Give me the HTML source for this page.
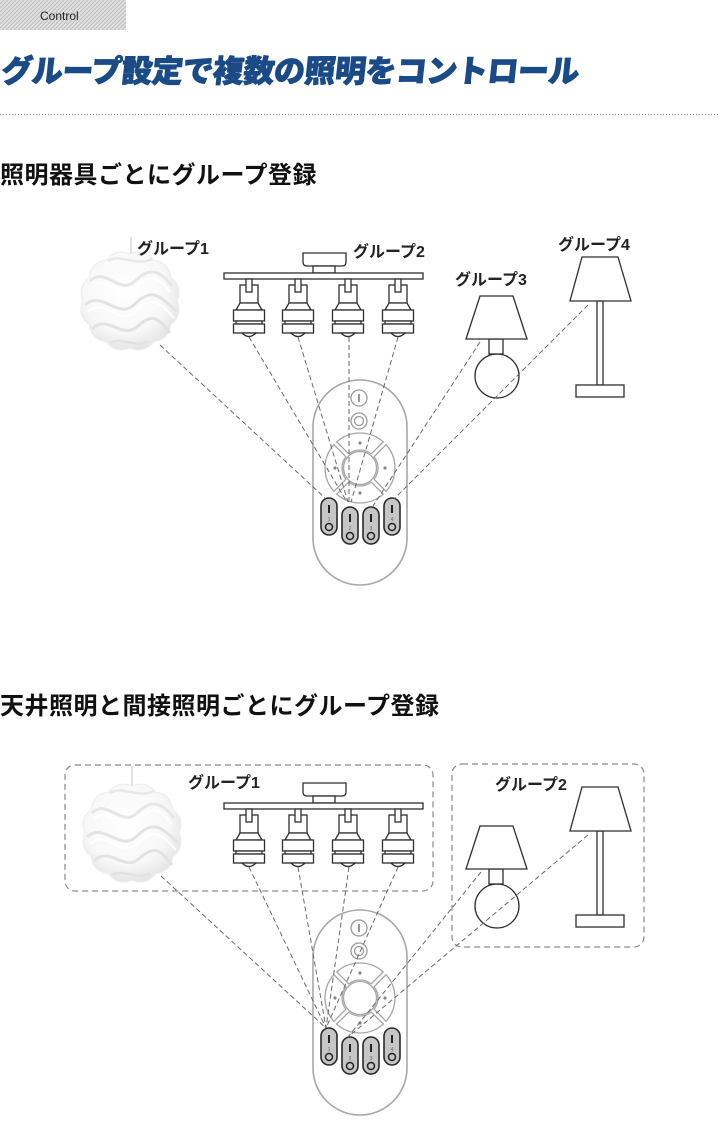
<!DOCTYPE html>
<html><head><meta charset="utf-8">
<style>
html,body{margin:0;padding:0;background:#fff;}
svg{display:block;}
.lbl{font-family:"Liberation Sans","Noto Sans CJK JP",sans-serif;font-weight:bold;font-size:16px;fill:#222;}
.dl{stroke:#6a6a6a;stroke-width:1;stroke-dasharray:5 3;fill:none;}
.ln{stroke:#2e2e2e;stroke-width:1.3;fill:#fff;}
</style></head>
<body>
<svg width="720" height="1140" viewBox="0 0 720 1140" xmlns="http://www.w3.org/2000/svg">
<defs>
  <pattern id="hatch" width="4" height="4" patternUnits="userSpaceOnUse">
    <rect width="4" height="4" fill="#e2e2e2"/>
    <path d="M-1,1 L1,-1 M0,4 L4,0 M3,5 L5,3" stroke="#bcbcbc" stroke-width="1"/>
  </pattern>
  <radialGradient id="lg" cx="45%" cy="40%" r="60%">
    <stop offset="0" stop-color="#ffffff"/>
    <stop offset="0.7" stop-color="#f8f8f8"/>
    <stop offset="1" stop-color="#e6e6e6"/>
  </radialGradient>
  <g id="pendant">
    <path d="M47,0 Q53.1,14.2 40.7,23.5 Q38.9,38.9 23.5,40.7 Q14.2,53.1 0,47 Q-14.2,53.1 -23.5,40.7 Q-38.9,38.9 -40.7,23.5 Q-53.1,14.2 -47,0 Q-53.1,-14.2 -40.7,-23.5 Q-38.9,-38.9 -23.5,-40.7 Q-14.2,-53.1 0,-47 Q14.2,-53.1 23.5,-40.7 Q38.9,-38.9 40.7,-23.5 Q53.1,-14.2 47,0 Z" fill="url(#lg)" stroke="#ececec" stroke-width="1"/>
    <path d="M-40,-20 C-25,-35 -10,-5 5,-20 S30,-30 42,-15" stroke="#e6e6e6" stroke-width="3" fill="none"/>
    <path d="M-45,4 C-28,-12 -12,20 5,3 S30,-5 46,10" stroke="#e3e3e3" stroke-width="3" fill="none"/>
    <path d="M-38,28 C-22,12 -8,40 8,25 S30,20 40,32" stroke="#e2e2e2" stroke-width="3" fill="none"/>
    <path d="M-22,-40 C-10,-48 5,-34 22,-42" stroke="#e8e8e8" stroke-width="2.5" fill="none"/>
    <path d="M-20,42 C-8,35 5,48 18,40" stroke="#e2e2e2" stroke-width="2.5" fill="none"/>
    <path d="M-38,-14 C-24,-28 -10,0 6,-14 S28,-24 40,-9" stroke="#ffffff" stroke-width="2" fill="none"/>
    <path d="M-42,11 C-26,-5 -10,27 6,10 S30,2 44,17" stroke="#ffffff" stroke-width="2" fill="none"/>
  </g>
  <g id="spot" class="ln">
    <rect x="-9" y="6" width="18" height="18"/>
    <rect x="-3" y="0" width="6" height="13"/>
    <polygon points="-9,24 9,24 13,31 -13,31"/>
    <rect x="-15.5" y="31" width="31" height="11"/>
    <rect x="-13" y="42" width="26" height="3"/>
    <rect x="-15.5" y="45" width="31" height="9"/>
    <path d="M-7,54 Q0,61 7,54 Z"/>
  </g>
  <g id="fixture">
    <g class="ln">
      <path d="M303,253 H346 V262 Q346,266 342,266 H307 Q303,266 303,262 Z"/>
      <rect x="313" y="266" width="22" height="7"/>
      <rect x="224" y="273" width="199" height="6"/>
    </g>
    <use href="#spot" x="249" y="279"/>
    <use href="#spot" x="298" y="279"/>
    <use href="#spot" x="348" y="279"/>
    <use href="#spot" x="398" y="279"/>
  </g>
  <g id="tlamp" class="ln">
    <circle cx="497" cy="376" r="22"/>
    <rect x="489" y="339" width="14" height="15"/>
    <polygon points="480,296 513,296 527,339 466,339"/>
  </g>
  <g id="flamp" class="ln">
    <rect x="597" y="301" width="6" height="84"/>
    <rect x="576" y="385" width="48" height="12"/>
    <polygon points="582,257 618,257 631,301 570,301"/>
  </g>
  <path id="seg" d="M-23.3,-26.1 A35,35 0 0 1 23.3,-26.1 L11.2,-14.1 A18,18 0 0 0 -11.2,-14.1 Z" fill="#fff" stroke="#a6a6a6" stroke-width="1.3"/>
  <g id="btn">
    <rect x="-8" y="0" width="16" height="37" rx="8" fill="#c6c6c6" stroke="#2a2a2a" stroke-width="1.6"/>
    <line x1="0" y1="7" x2="0" y2="15" stroke="#222" stroke-width="2"/>
    <circle cx="0" cy="29" r="3.5" fill="none" stroke="#222" stroke-width="1.5"/>
  </g>
  <g id="remote">
    <rect x="313" y="380" width="94" height="205" rx="47" fill="#fff" stroke="#a8a8a8" stroke-width="1.6"/>
    <circle cx="359" cy="398" r="8" fill="#fff" stroke="#9a9a9a" stroke-width="1.3"/>
    <line x1="359" y1="394" x2="359" y2="402" stroke="#777" stroke-width="1.5"/>
    <circle cx="359" cy="421" r="8" fill="#fff" stroke="#9a9a9a" stroke-width="1.3"/>
    <circle cx="359" cy="421" r="4.5" fill="none" stroke="#9a9a9a" stroke-width="1.3"/>
    <g transform="translate(360,468)">
      <use href="#seg"/>
      <use href="#seg" transform="rotate(90)"/>
      <use href="#seg" transform="rotate(180)"/>
      <use href="#seg" transform="rotate(270)"/>
      <circle cx="0" cy="0" r="16.5" fill="#fff" stroke="#a6a6a6" stroke-width="1.3"/>
      <circle cx="0" cy="-25" r="1.6" fill="#888"/>
      <circle cx="-25" cy="0" r="1.6" fill="#888"/>
      <circle cx="25" cy="0" r="1.6" fill="#888"/>
      <circle cx="0" cy="25" r="1.6" fill="#888"/>
    </g>
    <use href="#btn" x="329" y="498"/>
    <use href="#btn" x="350" y="507"/>
    <use href="#btn" x="371" y="507"/>
    <use href="#btn" x="392" y="498"/>
    <g font-family="Liberation Sans, sans-serif" font-size="5" fill="#666" text-anchor="middle">
      <text x="329" y="521">1</text>
      <text x="350" y="530">2</text>
      <text x="371" y="530">3</text>
      <text x="392" y="521">4</text>
    </g>
  </g>
</defs>

<!-- Header -->
<rect x="0" y="0" width="126" height="30" fill="url(#hatch)"/>
<text x="40" y="20" font-family="Liberation Sans, sans-serif" font-size="12" fill="#222">Control</text>
<g transform="translate(9,0) skewX(-6)">
<text x="0" y="82" font-family="Liberation Sans, Noto Sans CJK JP, sans-serif" font-weight="900" font-size="31" letter-spacing="-0.5" fill="#1b4b86" stroke="#1b4b86" stroke-width="0.9" stroke-linejoin="round">グループ設定で複数の照明をコントロール</text>
</g>
<line x1="0" y1="114.5" x2="720" y2="114.5" stroke="#8a8a8a" stroke-width="1" stroke-dasharray="1 2"/>
<text x="0" y="183" font-family="Liberation Sans, Noto Sans CJK JP, sans-serif" font-weight="bold" font-size="24" letter-spacing="0.5" fill="#111">照明器具ごとにグループ登録</text>

<!-- Diagram 1 -->
<line x1="131" y1="237" x2="131" y2="258" stroke="#cfcfcf" stroke-width="1.2"/>
<use href="#pendant" x="130" y="301"/>
<text class="lbl" x="137" y="254">グループ1</text>
<use href="#fixture"/>
<text class="lbl" x="353" y="257">グループ2</text>
<use href="#tlamp"/>
<text class="lbl" x="455" y="285">グループ3</text>
<use href="#flamp"/>
<text class="lbl" x="558" y="250">グループ4</text>
<use href="#remote"/>
<g class="dl">
  <line x1="160" y1="345" x2="325" y2="498"/>
  <line x1="249" y1="337" x2="347" y2="502"/>
  <line x1="298" y1="337" x2="348" y2="502"/>
  <line x1="349" y1="337" x2="349" y2="502"/>
  <line x1="398" y1="337" x2="351" y2="502"/>
  <line x1="480" y1="342" x2="373" y2="506"/>
  <line x1="588" y1="305" x2="394" y2="499"/>
</g>

<!-- Section 2 heading -->
<text x="0" y="714" font-family="Liberation Sans, Noto Sans CJK JP, sans-serif" font-weight="bold" font-size="24" letter-spacing="0.5" fill="#111">天井照明と間接照明ごとにグループ登録</text>

<!-- Diagram 2 -->
<rect x="65" y="765" width="368" height="126" rx="10" fill="none" stroke="#8a8a8a" stroke-width="1.2" stroke-dasharray="6 4"/>
<rect x="452" y="764" width="192" height="183" rx="10" fill="none" stroke="#8a8a8a" stroke-width="1.2" stroke-dasharray="6 4"/>
<line x1="132" y1="766" x2="132" y2="790" stroke="#cfcfcf" stroke-width="1.2"/>
<use href="#pendant" x="132" y="833"/>
<text class="lbl" x="188" y="788">グループ1</text>
<use href="#fixture" y="530"/>
<use href="#tlamp" y="530"/>
<use href="#flamp" y="530"/>
<text class="lbl" x="495" y="790">グループ2</text>
<use href="#remote" y="530"/>
<g class="dl">
  <line x1="161" y1="876" x2="326" y2="1028"/>
  <line x1="249" y1="867" x2="326" y2="1028"/>
  <line x1="298" y1="867" x2="326" y2="1028"/>
  <line x1="349" y1="867" x2="326" y2="1028"/>
  <line x1="398" y1="867" x2="326" y2="1028"/>
  <line x1="481" y1="872" x2="348" y2="1037"/>
  <line x1="588" y1="835" x2="348" y2="1037"/>
</g>
</svg>
</body></html>
